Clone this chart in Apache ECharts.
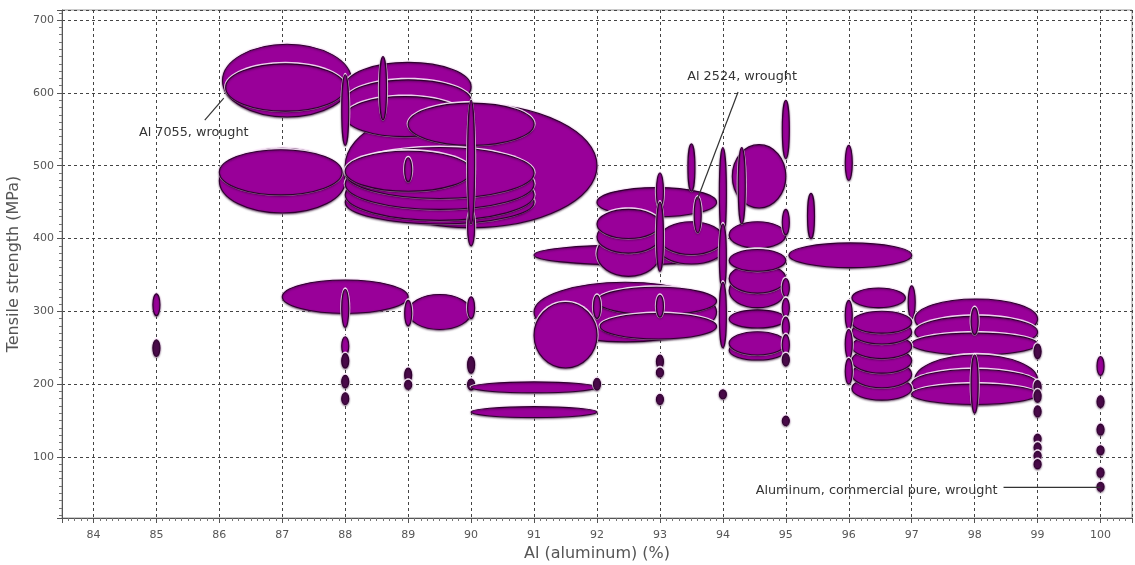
<!DOCTYPE html>
<html>
<head>
<meta charset="utf-8">
<style>
  html, body { margin: 0; padding: 0; background: #fff; }
  #chart { width: 1135px; height: 565px; }
</style>
<script src="https://cdn.jsdelivr.net/npm/echarts@6/dist/echarts.min.js"></script>
</head>
<body>
<div id="chart"></div>
<script>
// each row: [Al min %, Al max %, tensile min MPa, tensile max MPa]
// groups are listed in drawing order (back to front)
var band88to92 = [
  [88.0, 92.0, 415, 585],
  [88.0, 90.0, 575, 642],
  [88.0, 90.0, 560, 618],
  [88.0, 89.9, 540, 595],
  [89.0, 91.0, 528, 586],
  [88.0, 91.0, 420, 480],
  [88.0, 91.0, 425, 495],
  [88.0, 91.0, 440, 510],
  [88.0, 91.0, 455, 525],
  [88.0, 90.0, 465, 520],
  [88.0, 88.0, 528, 625],
  [88.6, 88.6, 563, 650],
  [89.0, 89.0, 478, 511],
  [90.0, 90.0, 390, 440],
  [90.0, 90.0, 420, 590]
];
var band86to88 = [
  [86.05, 88.1, 567, 667],
  [86.1, 88.0, 575, 640],
  [86.0, 88.0, 435, 524],
  [86.0, 87.95, 460, 522]
];
var band85to90low = [
  [85.0, 85.0, 294, 324],
  [85.0, 85.0, 238, 261],
  [87.0, 89.0, 297, 343],
  [88.0, 88.0, 278, 330],
  [88.0, 88.0, 240, 265],
  [88.0, 88.0, 222, 242],
  [88.0, 88.0, 195, 212],
  [88.0, 88.0, 172, 188],
  [89.0, 90.0, 275, 323],
  [89.0, 89.0, 280, 315],
  [90.0, 90.0, 290, 320],
  [89.0, 89.0, 203, 222],
  [89.0, 89.0, 193, 205],
  [90.0, 90.0, 215, 238],
  [90.0, 90.0, 192, 207]
];
var band90to94 = [
  [90.0, 92.0, 188, 203],
  [90.0, 92.0, 154, 169],
  [92.0, 92.0, 192, 208],
  [91.0, 93.9, 258, 340],
  [91.0, 92.0, 222, 312],
  [92.0, 93.9, 295, 333],
  [92.05, 93.9, 262, 297],
  [92.0, 92.0, 290, 322],
  [93.0, 93.0, 292, 322],
  [93.0, 93.0, 222, 240],
  [93.0, 93.0, 210, 222],
  [93.0, 93.0, 172, 186],
  [91.0, 94.0, 364, 391],
  [92.0, 93.9, 430, 470],
  [92.0, 93.0, 348, 410],
  [92.0, 93.0, 380, 425],
  [92.0, 93.0, 400, 440],
  [93.0, 94.0, 365, 405],
  [93.0, 94.0, 378, 423],
  [93.0, 93.0, 440, 490],
  [93.0, 93.0, 355, 450],
  [93.5, 93.5, 465, 530],
  [93.6, 93.6, 408, 457]
];
var band94to96 = [
  [94.15, 95.0, 442, 529],
  [94.1, 95.0, 387, 423],
  [94.1, 95.0, 233, 260],
  [94.1, 95.0, 240, 272],
  [94.1, 95.0, 277, 302],
  [94.1, 95.0, 305, 352],
  [94.1, 95.0, 325, 365],
  [94.1, 95.0, 355, 385],
  [94.0, 94.0, 400, 525],
  [94.0, 94.0, 330, 420],
  [94.0, 94.0, 250, 340],
  [94.3, 94.3, 420, 525],
  [94.0, 94.0, 180, 192],
  [95.0, 95.0, 510, 590],
  [95.0, 95.0, 405, 440],
  [95.0, 95.0, 320, 345],
  [95.0, 95.0, 292, 318],
  [95.0, 95.0, 265, 292],
  [95.0, 95.0, 240, 268],
  [95.0, 95.0, 225, 242],
  [95.0, 95.0, 143, 156],
  [95.4, 95.4, 400, 462],
  [96.0, 96.0, 480, 528],
  [95.05, 97.0, 360, 394]
];
var band96to100 = [
  [96.05, 96.9, 305, 332],
  [97.0, 97.0, 290, 335],
  [97.05, 99.0, 262, 317],
  [97.05, 99.0, 250, 293],
  [97.0, 99.0, 240, 270],
  [97.05, 99.0, 172, 240],
  [97.0, 99.0, 180, 220],
  [97.0, 99.0, 172, 200],
  [96.05, 97.0, 178, 210],
  [96.05, 97.0, 195, 232],
  [96.05, 97.0, 215, 250],
  [96.05, 97.0, 235, 268],
  [96.05, 97.0, 255, 288],
  [96.05, 97.0, 270, 300],
  [96.0, 96.0, 275, 315],
  [96.0, 96.0, 235, 275],
  [96.0, 96.0, 200, 235],
  [98.0, 98.0, 268, 305],
  [98.0, 98.0, 160, 240],
  [99.0, 99.0, 235, 255],
  [99.0, 99.0, 188, 205],
  [99.0, 99.0, 175, 192],
  [99.0, 99.0, 155, 170],
  [99.0, 99.0, 120, 130],
  [99.0, 99.0, 108, 118],
  [99.0, 99.0, 97, 106],
  [99.0, 99.0, 85, 95],
  [100.0, 100.0, 212, 238],
  [100.0, 100.0, 168, 184],
  [100.0, 100.0, 130, 145],
  [100.0, 100.0, 103, 115],
  [100.0, 100.0, 72, 85],
  [100.0, 100.0, 55, 63]
];

// callouts: [Al %, tensile MPa, text]
var notes = [
  [86.07, 593, 'Al 7055, wrought'],
  [93.59, 453, 'Al 2524, wrought'],
  [100.0, 58, 'Aluminum, commercial pure, wrought']
];
// pixel offsets of the callout text and line start from the anchor
var noteLayout = [
  { tx: -30, ty: 35, align: 'center', lx: -19, ly: 22 },
  { tx: 45, ty: -123, align: 'center', lx: 41, ly: -108 },
  { tx: -103, ty: 3, align: 'right', lx: -97, ly: 0 }
];

var ellipses = [].concat(band86to88, band88to92, band85to90low, band90to94, band94to96, band96to100);

function renderEllipse(params, api) {
  var a = api.coord([api.value(0), api.value(3)]);
  var b = api.coord([api.value(1), api.value(2)]);
  var rx = Math.max((b[0] - a[0]) / 2, 3.5);
  var ry = Math.max((b[1] - a[1]) / 2, 4.5);
  var cx = (a[0] + b[0]) / 2;
  var cy = (a[1] + b[1]) / 2;
  // the tiny dots read almost black in the original
  var fill = (rx < 4 && ry < 9) ? '#4a0a4a' : '#990099';
  return {
    type: 'group',
    children: [
      {
        // light halo: only shows where it lies over another ellipse
        type: 'ellipse',
        shape: { cx: cx, cy: cy - 0.5, rx: rx + 1.6, ry: ry + 1.6 },
        style: { fill: 'rgba(255,240,255,0.9)' }
      },
      {
        type: 'ellipse',
        shape: { cx: cx, cy: cy, rx: rx, ry: ry },
        style: {
          fill: fill,
          stroke: '#2e002e',
          lineWidth: 1.1,
          shadowBlur: 2,
          shadowOffsetY: 1,
          shadowColor: 'rgba(40,0,40,0.6)'
        }
      }
    ]
  };
}

function renderNote(params, api) {
  var p = api.coord([api.value(0), api.value(1)]);
  var l = noteLayout[params.dataIndex];
  return {
    type: 'group',
    children: [
      {
        type: 'line',
        shape: { x1: p[0] + l.lx, y1: p[1] + l.ly, x2: p[0], y2: p[1] },
        style: { stroke: '#333', lineWidth: 1.2 }
      },
      {
        type: 'text',
        style: {
          x: p[0] + l.tx, y: p[1] + l.ty,
          text: notes[params.dataIndex][2],
          fill: '#333',
          font: '12.8px "DejaVu Sans"',
          align: l.align,
          verticalAlign: 'middle'
        }
      }
    ]
  };
}

var chart = echarts.init(document.getElementById('chart'));
var axisColor = '#555';
chart.setOption({
  animation: false,
  backgroundColor: '#fff',
  grid: {
    left: 62, right: 3, top: 10, bottom: 47,
    outerBoundsMode: 'none',
    show: true, borderColor: '#999', borderWidth: 1
  },
  xAxis: {
    type: 'value', min: 83.5, max: 100.5, splitNumber: 17,
    name: 'Al (aluminum) (%)', nameLocation: 'middle', nameGap: 27,
    nameTextStyle: { fontSize: 16, color: '#555', fontFamily: 'DejaVu Sans' },
    axisLine: { onZero: false, lineStyle: { color: axisColor } },
    axisTick: { length: 5, lineStyle: { color: axisColor } },
    minorTick: { show: true, splitNumber: 10, length: 3, lineStyle: { color: '#777' } },
    axisLabel: { fontSize: 11, color: '#555', margin: 12, fontFamily: 'DejaVu Sans', showMinLabel: false, showMaxLabel: false },
    splitLine: { lineStyle: { type: [3, 3], color: '#444' } }
  },
  yAxis: {
    type: 'value', min: 16, max: 714, splitNumber: 7,
    name: 'Tensile strength (MPa)', nameLocation: 'middle', nameGap: 32,
    nameTextStyle: { fontSize: 16, color: '#555', fontFamily: 'DejaVu Sans' },
    axisLine: { onZero: false, lineStyle: { color: axisColor } },
    axisTick: { length: 5, lineStyle: { color: axisColor } },
    minorTick: { show: true, splitNumber: 10, length: 3, lineStyle: { color: '#777' } },
    axisLabel: { fontSize: 11, color: '#555', margin: 8, fontFamily: 'DejaVu Sans', showMinLabel: false, showMaxLabel: false },
    splitLine: { lineStyle: { type: [3, 3], color: '#444' } }
  },
  series: [
    {
      type: 'custom',
      renderItem: renderEllipse,
      clip: true,
      encode: { x: [0, 1], y: [2, 3] },
      data: ellipses
    },
    {
      type: 'custom',
      renderItem: renderNote,
      encode: { x: 0, y: 1 },
      data: notes.map(function (n) { return [n[0], n[1]]; })
    }
  ]
});
</script>
</body>
</html>
